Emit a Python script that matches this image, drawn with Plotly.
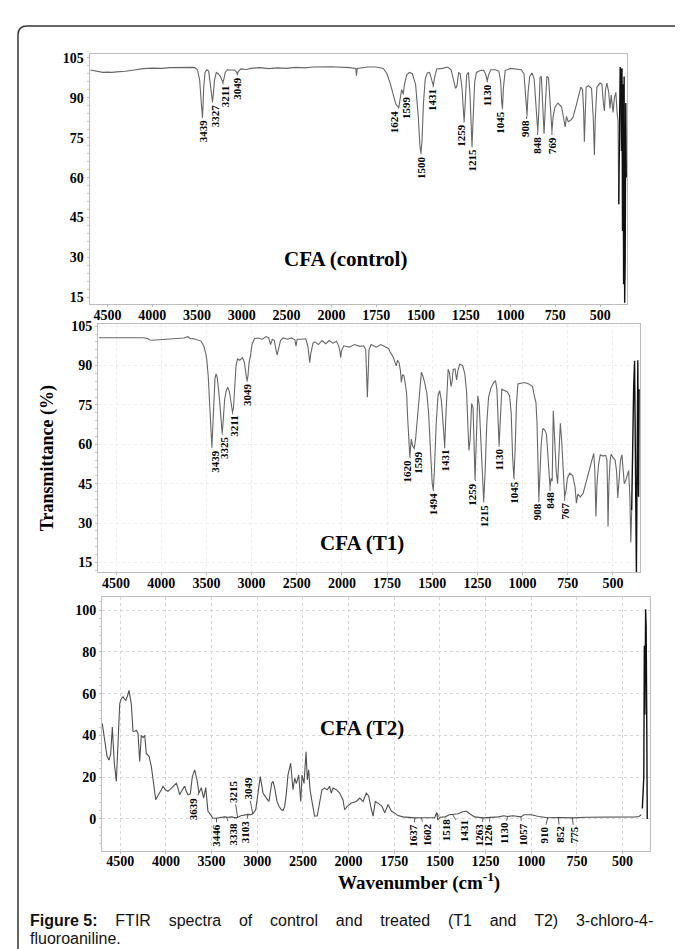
import numpy as np
import plotly.graph_objects as go

W, H = 683, 949

# ---------------- data ----------------
x_tick_wn = [4500, 4000, 3500, 3000, 2500, 2000, 1750, 1500, 1250, 1000, 750, 500]
x_tick_text = [str(v) for v in x_tick_wn]
t_ticks_ab = [15, 30, 45, 60, 75, 90, 105]
t_ticks_c = [0, 20, 40, 60, 80, 100]

# CFA (control): (wavenumber cm-1, transmittance %)
ctrl_points = [
    (4690, 100.4), (4650, 100.2), (4600, 99.8), (4550, 99.5), (4500, 99.6), (4450, 99.5), (4400, 99.7),
    (4300, 99.9), (4200, 100.4), (4100, 100.9), (4000, 101.1), (3900, 101.0), (3800, 101.3), (3700, 101.3),
    (3600, 101.5), (3530, 101.4), (3495, 100.5), (3470, 96.5), (3452, 88), (3443, 83.5), (3439, 82.8),
    (3434, 86), (3425, 94), (3410, 99.5), (3390, 100.5), (3370, 100), (3352, 95.5), (3338, 90), (3327, 88.5),
    (3318, 91), (3305, 96.5), (3285, 99.5), (3265, 99), (3240, 98), (3222, 96.5), (3211, 95.8), (3200, 97),
    (3185, 99.5), (3160, 100.5), (3110, 100.5), (3075, 100.3), (3058, 99.5), (3049, 98.8), (3040, 99.8),
    (3010, 100.8), (2950, 100.6), (2900, 101), (2800, 101.3), (2700, 100.9), (2600, 101.2), (2500, 101.0),
    (2400, 101.4), (2300, 101.2), (2200, 101.5), (2100, 101.5), (2000, 101.6), (1900, 101.3), (1864, 101),
    (1860, 98.3), (1856, 101), (1800, 101.5), (1750, 101.5), (1710, 101), (1690, 99), (1672, 95.5),
    (1655, 91), (1640, 87.5), (1624, 86.3), (1615, 89.5), (1608, 93), (1603, 92.3), (1599, 91.5),
    (1592, 95), (1580, 98.5), (1565, 99.5), (1548, 99), (1530, 95), (1515, 83), (1506, 72), (1500, 69.2),
    (1494, 74), (1486, 88), (1476, 97), (1465, 99.3), (1452, 99.5), (1442, 97.5), (1431, 94.5),
    (1424, 97.5), (1412, 100.8), (1380, 101), (1350, 101.5), (1332, 100.5), (1318, 97), (1307, 93.5),
    (1299, 94.5), (1290, 99.3), (1281, 99), (1270, 93), (1263, 85), (1259, 81), (1253, 88), (1245, 98.5),
    (1235, 99.5), (1226, 91), (1220, 80), (1215, 71.7), (1209, 82), (1200, 96), (1190, 99.5), (1170, 100.2),
    (1150, 100.3), (1139, 98.8), (1130, 96.3), (1123, 98.5), (1110, 100.5), (1085, 100.5), (1065, 100),
    (1055, 96), (1049, 88), (1045, 86), (1040, 93.5), (1030, 100.2), (1000, 101), (960, 100.8), (940, 100.5),
    (925, 99), (916, 91), (908, 83.5), (902, 92), (893, 98), (880, 99.3), (868, 97), (857, 86), (848, 77.5),
    (842, 85), (835, 97.5), (828, 98), (820, 88), (813, 76.5), (806, 87), (797, 98), (788, 97.5), (779, 88),
    (769, 77.5), (762, 83), (752, 86.5), (735, 88), (715, 86.5), (703, 82), (695, 79), (688, 83), (678, 81),
    (665, 81.5), (652, 82.5), (630, 88), (608, 94), (598, 93), (592, 85), (588, 73.5), (584, 84), (578, 94),
    (565, 94.5), (548, 93.5), (538, 82), (532, 68.5), (527, 82), (518, 94), (500, 95.5), (490, 95), (482, 88),
    (476, 85), (470, 93), (462, 95.5), (452, 92), (445, 86), (438, 91), (428, 84.5), (420, 90), (412, 92),
    (405, 84), (400, 81.5), (396, 50), (392, 88), (388, 101.5), (384, 100), (381, 70), (378, 101), (375, 40),
    (372, 95), (369, 20), (366, 98), (363, 13), (360, 30), (357, 88), (354, 60),
]

# CFA (T1)
t1_points = [
    (4690, 100.6), (4600, 100.6), (4500, 100.6), (4400, 100.7), (4300, 100.6), (4200, 100.6), (4150, 100.3),
    (4128, 99.7), (4100, 99.6), (4000, 99.8), (3900, 100), (3800, 100.2), (3750, 100.5), (3704, 101),
    (3680, 100.2), (3650, 100.3), (3600, 99.8), (3560, 99.3), (3530, 97.5), (3510, 95), (3495, 92),
    (3480, 86), (3465, 76), (3450, 65), (3439, 59), (3430, 66), (3418, 78), (3405, 85), (3393, 86.8),
    (3380, 85.5), (3360, 79), (3340, 70), (3325, 64), (3312, 70), (3298, 77), (3280, 80.5), (3262, 81.7),
    (3245, 80), (3225, 76), (3211, 72.2), (3200, 74), (3188, 82), (3172, 90), (3155, 92.5), (3130, 92),
    (3100, 93), (3078, 91), (3060, 86), (3049, 84.2), (3040, 86), (3028, 91), (3012, 93.7), (2995, 98),
    (2966, 100.3), (2930, 100.5), (2880, 100), (2840, 101), (2810, 100.5), (2790, 98), (2770, 100),
    (2748, 99.5), (2735, 97), (2718, 94), (2700, 96.5), (2680, 99.5), (2650, 100.5), (2600, 100),
    (2560, 100.5), (2520, 99.8), (2508, 97.4), (2495, 100), (2450, 100), (2400, 100.2), (2375, 97),
    (2362, 92.5), (2356, 91.1), (2345, 94.5), (2320, 98.5), (2300, 99), (2260, 98), (2220, 99.5),
    (2180, 98.3), (2140, 99.5), (2100, 98.5), (2060, 99.2), (2035, 97.5), (2020, 95), (2014, 93),
    (2005, 95.5), (1990, 97.5), (1960, 97), (1930, 98), (1900, 97.3), (1880, 97.5), (1868, 96), (1862, 85),
    (1859, 77.9), (1855, 86), (1850, 96), (1838, 98), (1810, 97), (1785, 98), (1760, 97), (1742, 96.5),
    (1732, 95), (1718, 93.5), (1705, 91), (1699, 89.9), (1692, 92), (1684, 91.2), (1676, 88), (1671, 83.6),
    (1664, 86.5), (1656, 86), (1648, 82.5), (1642, 79.5), (1636, 70), (1630, 60), (1624, 55.2), (1616, 62),
    (1609, 59.5), (1600, 58.4), (1592, 62), (1582, 70), (1570, 80), (1560, 87.5), (1552, 86), (1542, 83.6),
    (1530, 79.5), (1520, 72), (1510, 58), (1500, 45), (1494, 42.6), (1488, 50), (1478, 68), (1468, 78.5),
    (1459, 80.4), (1450, 77), (1442, 70), (1436, 62), (1431, 59), (1425, 70), (1418, 84), (1412, 88.6),
    (1404, 87), (1396, 82), (1390, 84), (1384, 88.5), (1374, 88.7), (1365, 84.5), (1358, 88), (1348, 90.5),
    (1332, 90), (1320, 87), (1310, 80), (1303, 68), (1297, 57.7), (1290, 62), (1282, 75.5), (1274, 74),
    (1268, 60), (1263, 46.4), (1256, 62), (1248, 78.5), (1240, 75), (1232, 62), (1224, 48), (1215, 38.2),
    (1207, 50), (1198, 68), (1188, 78), (1175, 81.5), (1160, 83.5), (1150, 84.2), (1142, 81), (1136, 68),
    (1130, 59.6), (1124, 68), (1115, 81), (1100, 80.5), (1085, 80), (1072, 78.5), (1063, 72), (1055, 55),
    (1048, 47), (1041, 58), (1034, 75), (1026, 83), (1010, 83.3), (990, 83.5), (965, 83), (945, 82),
    (935, 78.5), (926, 76), (920, 68), (914, 50), (910, 39.5), (904, 48), (897, 60), (888, 66), (878, 65.5),
    (868, 64), (860, 56), (853, 45), (848, 43.8), (842, 47), (836, 46), (830, 72.8), (822, 62), (814, 50),
    (806, 45), (798, 56), (791, 68), (784, 62), (775, 50), (767, 40), (760, 42), (752, 47), (739, 49),
    (722, 48), (710, 44), (702, 37.6), (694, 41), (680, 40), (665, 41.3), (650, 45), (630, 50), (615, 54),
    (606, 56.5), (600, 50), (594, 32.5), (588, 45), (580, 52), (570, 56), (555, 55.5), (540, 55.8),
    (533, 54), (529, 40), (527, 28.7), (522, 45), (515, 54), (509, 56.3), (500, 55), (488, 54), (480, 50),
    (473, 39.6), (466, 48), (458, 54), (450, 56), (443, 50), (437, 45), (430, 46), (420, 48), (413, 50),
    (406, 40), (401, 22.6), (396, 35), (390, 70), (385, 82), (380, 91.8), (376, 60), (373, 25), (370, 11),
    (366, 50), (362, 92), (358, 40), (355, 81),
]

# CFA (T2)
t2_points = [
    (4697, 45.7), (4670, 36), (4645, 30), (4623, 28.2), (4605, 31), (4587, 44), (4575, 35), (4565, 26.7),
    (4543, 18), (4525, 36), (4506, 55.2), (4490, 57.5), (4470, 58.6), (4455, 57.5), (4440, 56.8),
    (4420, 59), (4404, 61.6), (4379, 55), (4360, 41.9), (4340, 42), (4324, 42.5), (4306, 41), (4287, 27.6),
    (4270, 40), (4250, 39), (4232, 40), (4215, 31.4), (4185, 30), (4160, 25.2), (4135, 17), (4112, 9.2),
    (4090, 11), (4068, 12.4), (4050, 14), (4032, 15.6), (4005, 14), (3977, 13.2), (3930, 15), (3886, 17.1),
    (3870, 15), (3850, 11.6), (3820, 14), (3795, 15.7), (3775, 13), (3758, 11.6), (3733, 12), (3711, 20.3),
    (3685, 23.5), (3660, 18.7), (3638, 12.4), (3625, 14), (3613, 15), (3587, 10), (3564, 15), (3540, 3.8),
    (3510, 1.5), (3485, 0.3), (3449, 0.3), (3400, 0.6), (3360, 1), (3320, 0.8), (3280, 1), (3240, 0.5),
    (3211, 0.8), (3180, 1.5), (3140, 2), (3102, 2.2), (3072, 2), (3047, 2.5), (3017, 4.4), (2992, 12.4),
    (2967, 20.3), (2950, 16), (2937, 12.4), (2901, 10), (2872, 8.4), (2842, 17.1), (2828, 18), (2810, 15),
    (2798, 12.4), (2784, 8.4), (2760, 6), (2737, 4.4), (2718, 4), (2700, 6), (2682, 12), (2664, 21),
    (2634, 26.7), (2609, 14), (2590, 19.5), (2572, 17), (2546, 21), (2524, 8.4), (2510, 21), (2488, 17),
    (2466, 32.2), (2452, 18.7), (2437, 23.5), (2422, 14), (2401, 8.4), (2372, 1.3), (2343, 1.5),
    (2316, 9.2), (2292, 14), (2262, 14.8), (2234, 14), (2208, 15.6), (2190, 12.4), (2171, 14.8),
    (2134, 14), (2098, 12.4), (2062, 9.2), (2043, 4.4), (2014, 6), (1985, 7.6), (1958, 8.4), (1939, 10),
    (1921, 8.4), (1903, 12.4), (1890, 11), (1879, 6), (1866, 1.3), (1854, 8.4), (1839, 7.6), (1817, 6),
    (1802, 2.9), (1784, 6.9), (1766, 3.8), (1751, 3), (1730, 1.6), (1702, 1), (1660, 0.5), (1637, 0.5),
    (1602, 0.6), (1560, 0.5), (1529, 0.6), (1518, 3), (1512, -0.5), (1500, 0.8), (1470, 1), (1450, 2),
    (1431, 2.1), (1400, 2.5), (1380, 3.3), (1356, 3.8), (1337, 2.5), (1310, 1), (1263, 0.5), (1226, 0.6),
    (1180, 1), (1150, 1.5), (1130, 1.2), (1100, 1.5), (1057, 1), (1040, 2), (1000, 2), (960, 1.2),
    (910, 0.6), (852, 0.7), (775, 0.5), (700, 0.8), (600, 0.8), (500, 0.8), (430, 1), (410, 1.2), (398, 2),
    (392, 5), (388, 19.5), (384, 20), (381, 83), (378, 50), (374, 100.5), (371, 92), (368, 51), (365, 0),
]

ctrl_label_wn = [3439, 3327, 3211, 3049, 1624, 1599, 1500, 1431, 1259, 1215, 1130, 1045, 908, 848, 769]
t1_label_wn = [3439, 3325, 3211, 3049, 1620, 1599, 1494, 1431, 1259, 1215, 1130, 1045, 908, 848, 767]
t2_label_below_wn = [3446, 3338, 3103, 1637, 1602, 1518, 1431, 1263, 1226, 1130, 1057, 910, 852, 775]
t2_label_above_wn = [3215, 3049]
t2_label_side_wn = [3639]

panel_titles = ["CFA (control)", "CFA (T1)", "CFA (T2)"]

# ---------------- styling (label nudges in pixels, to keep crowded labels apart) ----------------
SERIF = "Liberation Serif"
SANS = "Liberation Sans"
ctrl_nudge = {3327: 2, 3211: 2, 1624: -5, 1599: 2, 1431: -2, 1259: -3, 1045: -2, 908: -2, 848: -1}
t1_nudge = {3439: 3, 3325: 2, 3211: 2, 1620: -4, 1599: 4, 1259: -4, 908: -2}
t2_nudge = {3338: 7, 3215: -4, 3049: -5, 3103: -2, 1637: -2, 1602: 5, 1518: 9, 1431: 11,
            1263: -4, 1226: -2, 1130: -3, 1057: 2, 910: -4, 852: 2, 775: 2}


def xpos(w):
    """FTIR abscissa: scale halves above 2000 cm-1."""
    w = np.asarray(w, dtype=float)
    return np.where(w > 2000, 2000 + (w - 2000) / 2.0, w)


def unzip(points):
    wn = np.array([p[0] for p in points], dtype=float)
    t = np.array([p[1] for p in points], dtype=float)
    return wn, t


def dip_value(wn, t, w, win=10):
    m = np.abs(wn - w) <= win
    if m.any():
        return float(t[m].min())
    order = np.argsort(wn)
    return float(np.interp(w, wn[order], t[order]))


def interp_value(wn, t, w):
    order = np.argsort(wn)
    return float(np.interp(w, wn[order], t[order]))


def xdom(l, r):
    return [l / W, r / W]


def ydom(top, bottom):
    return [1 - bottom / H, 1 - top / H]


panels = [
    dict(points=ctrl_points, xd=(81.5, 619), yd=(41, 293), yr=(12.5, 106.5), yt=t_ticks_ab, minor=3,
         grid=None, color="#666666"),
    dict(points=t1_points, xd=(90, 632), yd=(313, 563), yr=(11.2, 105.8), yt=t_ticks_ab, minor=3,
         grid="#ededed", color="#666666"),
    dict(points=t2_points, xd=(94, 642), yd=(588, 843), yr=(-15.2, 106.2), yt=t_ticks_c, minor=4,
         grid="#d6d6d6", color="#505050"),
]

fig = go.Figure()
annotations = []
label_font = dict(family=SERIF, size=11, color="black", weight="bold")

for i, p in enumerate(panels):
    k = "" if i == 0 else str(i + 1)
    xa, ya = "x" + k, "y" + k
    wn, t = unzip(p["points"])
    main = wn >= 396
    tail = wn <= 396
    fig.add_trace(go.Scatter(x=xpos(wn[main]), y=t[main], mode="lines", xaxis=xa, yaxis=ya,
                             line=dict(color=p["color"], width=1.1), showlegend=False, hoverinfo="skip"))
    fig.add_trace(go.Scatter(x=xpos(wn[tail]), y=t[tail], mode="lines", xaxis=xa, yaxis=ya,
                             line=dict(color="#111111", width=1.4), showlegend=False, hoverinfo="skip"))

    if p["grid"]:
        grid = dict(showgrid=True, gridcolor=p["grid"], griddash="dot", gridwidth=1)
    else:
        grid = dict(showgrid=False)
    fig.update_layout(**{
        "xaxis" + k: dict(domain=xdom(*p["xd"]), range=[3350, 350], anchor=ya,
                          tickmode="array", tickvals=list(xpos(x_tick_wn)), ticktext=x_tick_text,
                          tickfont=dict(family=SERIF, size=14, color="black", weight="bold"),
                          ticks="outside", ticklen=2, tickcolor="#bbbbbb", ticklabelstandoff=-4,
                          showline=True, linecolor="#bdbdbd", linewidth=1, mirror=True,
                          zeroline=False, **grid),
        "yaxis" + k: dict(domain=ydom(*p["yd"]), range=list(p["yr"]), anchor=xa,
                          tickmode="array", tickvals=p["yt"],
                          tickfont=dict(family=SERIF, size=14, color="black", weight="bold"),
                          ticks="outside", ticklen=2, tickcolor="#bbbbbb",
                          minor=dict(ticks="outside", ticklen=2, tickcolor="#cccccc", dtick=p["minor"]),
                          showline=True, linecolor="#bdbdbd", linewidth=1, mirror=True,
                          zeroline=False, **grid),
    })

    def add_label(w, y, ax, ay):
        annotations.append(dict(x=float(xpos(w)), y=y, xref=xa, yref=ya, text=str(w), textangle=-90,
                                showarrow=True, arrowhead=0, arrowwidth=0.8, arrowcolor="#333333",
                                ax=ax, ay=ay, standoff=0, font=label_font))

    if i == 0:
        for w in ctrl_label_wn:
            add_label(w, dip_value(wn, t, w), ctrl_nudge.get(w, 0), 14)
    elif i == 1:
        for w in t1_label_wn:
            add_label(w, dip_value(wn, t, w), t1_nudge.get(w, 0), 14)
    else:
        for w in t2_label_below_wn:
            add_label(w, interp_value(wn, t, w), t2_nudge.get(w, 0), 17)
        for w in t2_label_above_wn:
            add_label(w, interp_value(wn, t, w), t2_nudge.get(w, 0), -26)
        for w in t2_label_side_wn:
            add_label(w, interp_value(wn, t, w), -5, 16)

# panel titles
title_pos = [(337, 248), (354, 533), (354, 720)]
for txt, (cx, cy) in zip(panel_titles, title_pos):
    annotations.append(dict(x=cx / W, y=1 - cy / H, xref="paper", yref="paper", text=txt, showarrow=False,
                            xanchor="center", yanchor="middle",
                            font=dict(family=SERIF, size=21, color="black", weight="bold")))

# axis titles
annotations.append(dict(x=39 / W, y=1 - 448 / H, xref="paper", yref="paper", text="Transmittance (%)",
                        textangle=-90, showarrow=False, xanchor="center", yanchor="middle",
                        font=dict(family=SERIF, size=18, color="black", weight="bold")))
annotations.append(dict(x=411 / W, y=1 - 874 / H, xref="paper", yref="paper",
                        text="Wavenumber (cm<sup>-1</sup>)", showarrow=False, xanchor="center", yanchor="middle",
                        font=dict(family=SERIF, size=19, color="black", weight="bold")))

# caption (first line spread to the full width, as in a justified paragraph)
gap = " " + "\u00a0" * 3
cap_words = ["<b>Figure 5:</b>", "FTIR", "spectra", "of", "control", "and", "treated", "(T1", "and", "T2)",
             "3-chloro-4-"]
annotations.append(dict(x=20 / W, y=1 - 913 / H, xref="paper", yref="paper", text=gap.join(cap_words),
                        showarrow=False, xanchor="left", yanchor="middle",
                        font=dict(family=SANS, size=16, color="#111111")))
annotations.append(dict(x=20 / W, y=1 - 931 / H, xref="paper", yref="paper", text="fluoroaniline.",
                        showarrow=False, xanchor="left", yanchor="middle",
                        font=dict(family=SANS, size=16, color="#111111")))

# outer rounded frame (left and top edges visible)
bx, by, r = 10, 13, 9
path = (f"M {bx / W},0 L {bx / W},{1 - (by + r) / H} "
        f"Q {bx / W},{1 - by / H} {(bx + r) / W},{1 - by / H} L 1,{1 - by / H}")
fig.add_shape(type="path", path=path, xref="paper", yref="paper", line=dict(color="#333333", width=1.5))

fig.update_layout(width=W, height=H, autosize=False, margin=dict(l=0, r=0, t=0, b=0),
                  paper_bgcolor="white", plot_bgcolor="white", annotations=annotations, showlegend=False)

fig.write_html("out.html")
